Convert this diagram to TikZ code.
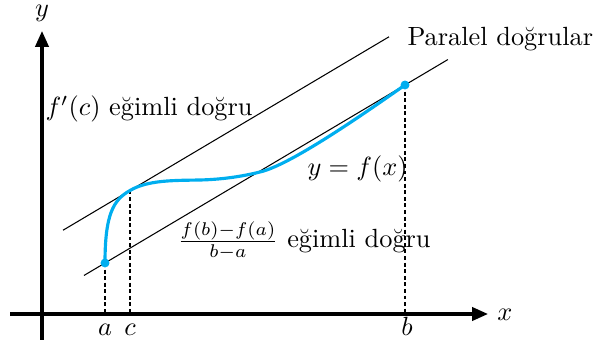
\documentclass[tikz,border=0pt]{standalone}
\usetikzlibrary{calc,arrows.meta}
\definecolor{curveblue}{RGB}{0,174,239}
\begin{document}
\begin{tikzpicture}[x=0.38pt,y=0.38pt,
  axisline/.style={line width=1.15pt,-{Triangle[length=6pt,width=5pt]}},
  thinline/.style={line width=0.4pt},
  dropline/.style={line width=0.4pt,dash pattern=on 1.5pt off 1pt},
  curveline/.style={curveblue,line width=1.2pt},
  dotmark/.style={circle,fill=curveblue,inner sep=0pt,minimum size=3.4pt},
  lbl/.style={inner sep=0pt,anchor=base}]
\useasboundingbox (0,0) rectangle (599,345);
% axes
\coordinate (ybot) at (42,5);
\coordinate (ytop) at (42,314);
\coordinate (xleft) at (10,31);
\coordinate (xright) at (488,31);
\draw[axisline] (ybot) -- (ytop);
\draw[axisline] (xleft) -- (xright);
\node[lbl] (ylab) at (42,328) {$y$};
\node[lbl] (xlab) at (505,24) {$x$};
% key points
\coordinate (a) at (105,82);
\coordinate (c) at (130,154.5);
\coordinate (b) at (405,260);
\coordinate (ax) at (105,31);
\coordinate (cx) at (130,31);
\coordinate (bx) at (405,31);
% drop lines
\draw[dropline] (a) -- (ax);
\draw[dropline] (c) -- (cx);
\draw[dropline] (b) -- (bx);
% secant and tangent lines
\coordinate (s1) at ($(a)!-0.07!(b)$);
\coordinate (s2) at ($(a)!1.143!(b)$);
\coordinate (t1) at ($(c)+(-67,-39.75)$);
\coordinate (t2) at ($(c)+(259,153.7)$);
\draw[thinline] (s1) -- (s2);
\draw[thinline] (t1) -- (t2);
% curve
\draw[curveline] (a) .. controls (105,130) and (113,145) .. (c)
  .. controls (148,165.2) and (175,164.5) .. (200,165)
  .. controls (220,165.5) and (240,168) .. (260,173)
  .. controls (290,180) and (360,228.5) .. (b);
\node[dotmark] (adot) at (a) {};
\node[dotmark] (bdot) at (b) {};
% tick labels
\node[lbl] (alab) at (105,9) {$a$};
\node[lbl] (clab) at (130,9) {$c$};
\node[lbl] (blab) at (407,9) {$b$};
% texts
\node[inner sep=0pt,anchor=base west] (par) at (407,299) {Paralel doğrular};
\node[inner sep=0pt,anchor=base west] (tan) at (45,229) {$f'(c)$ eğimli doğru};
\node[inner sep=0pt,anchor=base west] (sec) at (177,97) {$\frac{f(b)-f(a)}{b-a}$ eğimli doğru};
\node[inner sep=0pt,anchor=base west] (fx) at (307,169) {$y=f(x)$};
\end{tikzpicture}
\end{document}
